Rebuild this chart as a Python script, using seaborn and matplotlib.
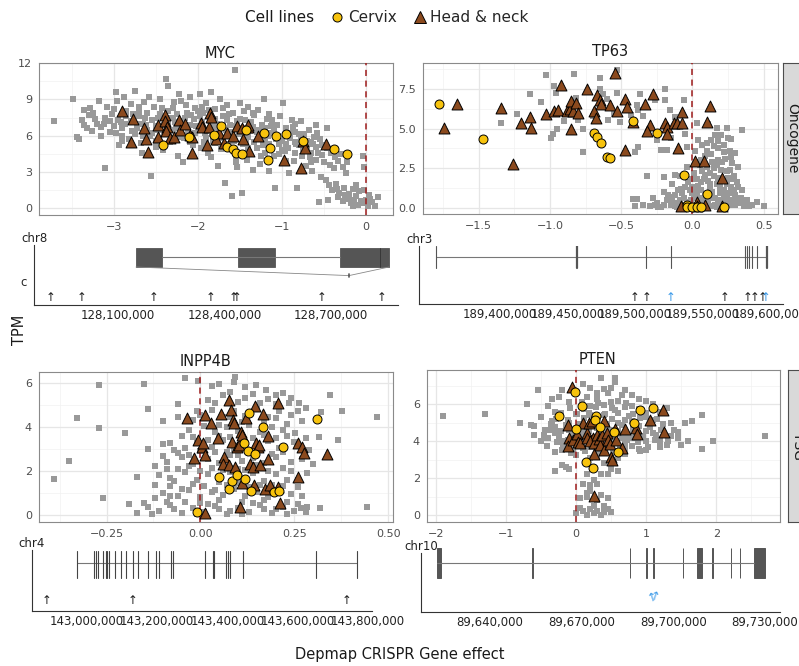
import numpy as np
import pandas as pd
import seaborn as sns
import matplotlib.pyplot as plt
from matplotlib.lines import Line2D
from matplotlib.patches import Rectangle

sns.set_style("white")
plt.rcParams['font.family'] = ['DejaVu Sans']

# ---------------- data ----------------
# MYC: (gene effect, TPM)
myc_grey = [(-3.71, 7.2), (-3.48, 9.0), (-3.44, 5.9), (-3.42, 5.7), (-3.38, 7.3), (-3.35, 8.1), (-3.32, 6.6),
            (-3.30, 7.7), (-3.28, 8.3), (-3.26, 6.4), (-3.22, 7.4), (-3.18, 8.9), (-3.15, 6.0), (-3.12, 7.0),
            (-3.10, 3.3), (-3.08, 8.4), (-3.05, 6.3), (-3.02, 7.8), (-2.98, 9.6), (-2.96, 8.9), (-2.94, 5.2),
            (-2.92, 7.1), (-2.90, 6.0), (-2.88, 9.2), (-2.85, 7.6), (-2.82, 5.7), (-2.80, 8.6), (-2.78, 6.4),
            (-2.75, 9.7), (-2.72, 7.0), (-2.70, 8.1), (-2.68, 5.4), (-2.66, 4.6), (-2.64, 8.8), (-2.62, 6.9),
            (-2.60, 7.9), (-2.58, 9.2), (-2.56, 2.7), (-2.55, 6.2), (-2.52, 8.4), (-2.50, 5.1), (-2.48, 7.5),
            (-2.45, 9.0), (-2.42, 4.8), (-2.40, 6.9), (-2.38, 10.7), (-2.36, 10.1), (-2.35, 8.0), (-2.33, 5.5),
            (-2.30, 7.5), (-2.28, 8.8), (-2.26, 6.6), (-2.24, 4.3), (-2.22, 9.4), (-2.20, 7.2), (-2.18, 3.8),
            (-2.16, 5.8), (-2.14, 8.5), (-2.12, 6.4), (-2.10, 9.2), (-2.08, 7.7), (-2.06, 5.2), (-2.04, 8.3),
            (-2.02, 6.8), (-1.98, 9.4), (-1.96, 5.0), (-1.94, 7.9), (-1.92, 6.2), (-1.90, 8.7), (-1.88, 4.6),
            (-1.86, 7.2), (-1.84, 9.6), (-1.82, 5.6), (-1.80, 8.2), (-1.78, 6.7), (-1.76, 3.5), (-1.74, 9.0),
            (-1.72, 4.9), (-1.70, 7.6), (-1.68, 2.1), (-1.66, 8.5), (-1.64, 5.3), (-1.62, 6.9), (-1.60, 1.0),
            (-1.58, 7.9), (-1.56, 11.4), (-1.55, 4.3), (-1.53, 3.4), (-1.51, 6.1), (-1.50, 8.7), (-1.47, 1.3),
            (-1.46, 5.3), (-1.44, 7.3), (-1.42, 4.0), (-1.40, 8.4), (-1.38, 6.4), (-1.35, 3.2), (-1.33, 7.7),
            (-1.30, 5.0), (-1.28, 8.1), (-1.26, 3.7), (-1.24, 6.9), (-1.22, 9.0), (-1.20, 5.6), (-1.18, 7.4),
            (-1.16, 3.1), (-1.14, 6.2), (-1.12, 7.3), (-1.10, 4.3), (-1.08, 1.7), (-1.06, 6.9), (-1.04, 5.3),
            (-1.02, 7.6), (-0.99, 8.7), (-0.97, 4.7), (-0.95, 6.6), (-0.92, 2.9), (-0.90, 5.8), (-0.88, 7.3),
            (-0.86, 3.9), (-0.84, 6.3), (-0.82, 1.7), (-0.80, 5.2), (-0.78, 7.2), (-0.76, 4.3), (-0.74, 6.1),
            (-0.72, 3.5), (-0.70, 5.6), (-0.68, 6.5), (-0.66, 4.6), (-0.64, 3.1), (-0.62, 5.9), (-0.60, 4.0),
            (-0.58, 6.2), (-0.56, 0.5), (-0.54, 2.6), (-0.52, 5.2), (-0.50, 3.8), (-0.48, 2.3), (-0.46, 6.6),
            (-0.44, 1.9), (-0.42, 4.6), (-0.40, 1.5), (-0.38, 3.3), (-0.36, 2.0), (-0.34, 0.9), (-0.32, 1.3),
            (-0.30, 4.5), (-0.28, 0.6), (-0.26, 1.7), (-0.24, 2.9), (-0.22, 0.8), (-0.20, 1.2), (-0.18, 0.4),
            (-0.16, 1.6), (-0.14, 0.7), (-0.12, 1.0), (-0.10, 0.3), (-0.08, 1.4), (-0.06, 0.6), (-0.04, 4.3),
            (-0.02, 3.4), (0.00, 0.7), (0.02, 0.2), (0.04, 1.1), (0.07, 0.5), (0.10, 0.2), (0.14, 0.9),
            (-3.20, 7.0), (-3.10, 7.5), (-3.00, 6.8), (-2.95, 7.3), (-2.90, 6.6), (-2.85, 8.0), (-2.80, 7.2),
            (-2.75, 6.1), (-2.70, 7.6), (-2.65, 7.0), (-2.60, 6.5), (-2.55, 7.3), (-2.50, 6.8), (-2.45, 7.8),
            (-2.40, 6.2), (-2.35, 7.0), (-2.30, 6.5), (-2.25, 7.8), (-2.20, 6.0), (-2.15, 7.5), (-2.10, 6.9),
            (-2.05, 7.4), (-2.00, 6.6), (-1.95, 7.1), (-1.90, 6.4), (-1.85, 6.9), (-1.80, 7.4), (-1.75, 6.3),
            (-1.70, 6.8), (-1.65, 7.3), (-1.60, 6.3), (-1.55, 6.8), (-1.50, 7.4), (-1.45, 6.2), (-1.40, 5.9),
            (-1.35, 6.7), (-1.30, 6.3), (-1.25, 5.8), (-1.20, 6.6), (-1.15, 5.3), (-1.10, 6.4), (-1.05, 6.0),
            (-1.00, 5.6), (-0.95, 5.3), (-0.90, 6.2), (-0.85, 5.5), (-0.80, 6.1), (-0.75, 4.9), (-0.70, 5.0),
            (-0.65, 5.5), (-0.60, 5.1), (-0.55, 5.7), (-2.90, 5.6), (-2.50, 5.6), (-2.10, 5.5), (-1.80, 5.4),
            (-1.40, 5.0), (-1.20, 4.6), (-1.00, 4.8), (-0.85, 4.6), (-2.30, 8.3), (-2.00, 8.0), (-1.70, 8.3),
            (-1.35, 7.9), (-1.90, 5.8), (-1.60, 5.9), (-3.00, 8.2), (-2.70, 8.4),
            (-3.35, 6.9), (-3.25, 7.9), (-3.15, 6.7), (-3.05, 7.2), (-2.97, 6.2), (-2.87, 7.0), (-2.77, 7.8),
            (-2.73, 6.6), (-2.63, 7.5), (-2.57, 6.0), (-2.47, 6.5), (-2.43, 8.3), (-2.37, 7.5), (-2.27, 7.1),
            (-2.23, 5.9), (-2.17, 6.8), (-2.13, 7.9), (-2.03, 6.2), (-1.97, 7.6), (-1.93, 5.5), (-1.87, 8.1),
            (-1.83, 6.1), (-1.77, 7.0), (-1.73, 5.8), (-1.67, 6.5), (-1.63, 7.8), (-1.57, 5.6), (-1.53, 7.2),
            (-1.47, 6.6), (-1.43, 5.6), (-1.37, 7.1), (-1.33, 5.5), (-1.27, 6.5), (-1.23, 5.2), (-1.17, 6.0),
            (-1.13, 6.8), (-1.07, 5.7), (-1.03, 4.5), (-0.97, 6.0), (-0.93, 5.0), (-0.87, 6.7), (-0.83, 5.3),
            (-0.77, 5.8), (-0.73, 5.3), (-0.67, 4.2), (-0.63, 5.3), (-0.57, 4.6), (-0.53, 4.4), (-0.47, 5.0),
            (-0.43, 3.6), (-0.37, 4.2), (-0.33, 3.9), (-0.27, 3.4), (-0.23, 3.8), (-1.85, 4.2), (-1.55, 3.8),
            (-1.25, 4.3), (-0.95, 3.9), (-0.65, 3.8), (-2.65, 6.0), (-2.20, 8.9), (-1.95, 8.4), (-1.45, 8.0),
            (-1.15, 7.8), (-0.85, 7.0), (-0.60, 6.9), (-0.15, 0.2), (-0.05, 0.4), (0.05, 0.8), (-0.25, 1.1),
            (-0.35, 1.6), (-0.45, 0.7), (-0.12, 1.9), (-0.02, 1.5)]
myc_tri = [(-2.90, 8.06), (-2.77, 7.4), (-2.79, 5.46), (-2.64, 6.65), (-2.62, 5.71), (-2.59, 4.64), (-2.48, 6.84),
           (-2.48, 5.85), (-2.39, 7.73), (-2.39, 7.17), (-2.37, 6.7), (-2.38, 6.35), (-2.33, 5.79), (-2.29, 5.93),
           (-2.23, 7.31), (-2.21, 6.48), (-2.15, 6.95), (-2.09, 6.07), (-2.07, 4.55), (-2.07, 5.85), (-1.96, 7.06),
           (-1.95, 6.68), (-1.89, 5.24), (-1.87, 6.68), (-1.86, 7.86), (-1.85, 7.53), (-1.75, 6.21), (-1.78, 5.71),
           (-1.69, 5.38), (-1.66, 6.21), (-1.58, 5.99), (-1.54, 6.82), (-1.46, 5.71), (-1.48, 6.62), (-1.40, 6.68),
           (-1.41, 6.84), (-1.39, 4.77), (-1.29, 5.99), (-0.98, 4.0), (-0.77, 3.31), (-0.75, 5.52), (-0.73, 4.97),
           (-0.48, 5.33)]
myc_cir = [(-2.42, 5.19), (-2.11, 5.88), (-1.81, 6.07), (-1.73, 6.82), (-1.66, 5.08), (-1.58, 4.91), (-1.55, 4.55),
           (-1.48, 4.47), (-1.43, 6.48), (-1.21, 6.26), (-1.14, 5.02), (-1.17, 3.97), (-1.07, 5.99), (-0.95, 6.13),
           (-0.75, 5.55), (-0.38, 4.88), (-0.23, 4.5)]

# TP63
tp63_grey = [(-1.34, 5.34), (-1.14, 7.17), (-1.23, 5.93), (-1.06, 6.67), (-1.03, 8.4), (-0.98, 4.66), (-0.96, 7.24),
             (-0.97, 7.7), (-0.99, 4.43), (-0.95, 4.96), (-0.83, 8.44), (-0.82, 6.92), (-0.80, 5.55), (-0.77, 4.96),
             (-0.77, 3.54), (-0.65, 8.19), (-0.65, 7.49), (-0.63, 7.17), (-0.59, 5.55), (-0.55, 5.93), (-0.53, 8.71),
             (-0.53, 7.24), (-0.51, 5.44), (-0.43, 5.86), (-0.40, 3.54), (-0.39, 6.5), (-0.42, 0.53), (-0.40, 0.13),
             (-0.39, 0.55), (-0.38, 3.86), (-0.37, 7.17), (-0.38, 6.18), (-0.32, 2.0), (-0.31, 4.7), (-0.26, 6.81),
             (-0.26, 0.17), (-0.22, 3.65), (-0.20, 1.92), (-0.19, 6.81), (-0.19, 7.49), (-0.18, 3.65), (-0.16, 6.18),
             (-0.12, 5.76), (-0.12, 2.1), (-0.06, 6.81), (-0.05, 4.66), (-0.04, 3.86), (0.03, 5.38), (0.10, 4.07),
             (0.11, 5.27), (0.17, 5.02), (0.18, 4.22), (0.24, 5.02), (0.27, 4.32), (0.30, 3.44), (0.35, 4.92),
             (0.32, 2.55), (0.40, 0.13), (0.50, 0.13), (0.30, 0.53), (0.37, 0.27),
             (-0.30, 0.1), (-0.25, 0.3), (-0.22, 0.05), (-0.18, 0.5), (-0.15, 0.15), (-0.12, 0.8), (-0.10, 0.3),
             (-0.08, 1.2), (-0.06, 0.6), (-0.05, 0.05), (-0.03, 1.6), (-0.02, 0.35), (0.00, 0.9), (0.01, 2.2),
             (0.02, 0.2), (0.04, 1.4), (0.05, 0.6), (0.06, 3.0), (0.07, 0.1), (0.08, 1.8), (0.09, 0.8), (0.10, 2.6),
             (0.11, 0.3), (0.12, 1.2), (0.13, 3.4), (0.14, 0.6), (0.15, 2.0), (0.16, 0.2), (0.17, 1.5), (0.18, 3.8),
             (0.19, 0.9), (0.20, 2.4), (0.21, 0.4), (0.22, 1.1), (0.23, 3.1), (0.24, 0.7), (0.25, 1.9), (0.26, 0.2),
             (0.27, 1.3), (0.28, 2.8), (0.30, 0.8), (0.31, 1.6), (0.33, 0.3), (0.35, 1.1), (0.38, 0.5), (0.42, 0.2),
             (-0.20, 1.0), (-0.14, 1.5), (-0.09, 2.0), (-0.04, 2.6), (0.02, 3.6), (0.04, 4.3), (0.07, 2.3),
             (0.11, 1.7), (0.14, 2.9), (0.16, 4.6), (0.19, 1.3), (0.22, 4.0), (0.24, 2.3), (0.26, 3.6), (0.29, 2.0),
             (0.32, 0.6), (0.03, 1.0), (0.08, 0.4), (0.13, 0.9), (0.18, 0.5), (0.23, 0.1), (0.28, 0.5), (-0.01, 0.5),
             (-0.07, 0.2), (-0.12, 0.1), (0.12, 2.2), (0.17, 2.7), (0.21, 1.7), (0.06, 1.6), (0.00, 1.3), (0.09, 3.3),
             (0.15, 3.9), (-0.35, 0.2), (0.45, 0.35),
             (-0.28, 0.6), (-0.24, 0.05), (-0.20, 0.2), (-0.17, 0.8), (-0.14, 0.4), (-0.11, 0.05), (-0.09, 0.5),
             (-0.07, 0.9), (-0.04, 0.3), (-0.02, 1.1), (0.00, 0.1), (0.01, 0.6), (0.03, 1.8), (0.05, 0.3),
             (0.06, 1.1), (0.08, 0.05), (0.09, 2.1), (0.10, 0.5), (0.12, 1.5), (0.13, 0.1), (0.14, 1.0), (0.15, 2.5),
             (0.16, 0.6), (0.18, 1.9), (0.19, 0.3), (0.20, 1.1), (0.21, 2.9), (0.22, 0.6), (0.24, 1.5), (0.25, 0.3),
             (0.26, 2.4), (0.27, 0.9), (0.29, 1.1), (0.30, 0.2), (0.32, 1.3), (0.34, 0.6), (0.36, 0.1), (0.05, 2.7),
             (0.10, 3.6), (0.13, 4.3), (0.18, 3.0), (0.20, 4.6), (0.25, 4.4), (0.27, 3.2), (0.22, 3.5), (0.07, 4.0),
             (0.03, 2.9), (0.00, 1.8), (-0.05, 1.3), (-0.10, 1.1), (-0.15, 0.7), (0.11, 0.8), (0.17, 0.05),
             (0.23, 0.9), (0.28, 1.8), (-0.25, 4.3), (-0.35, 5.8), (-0.15, 4.4), (-0.45, 6.2), (-0.70, 5.8),
             (-0.60, 6.9), (-0.90, 5.5)]
tp63_tri = [(-1.65, 6.56), (-1.74, 5.02), (-1.26, 2.74), (-1.34, 6.29), (-1.20, 5.38), (-1.14, 5.76), (-1.13, 5.02),
            (-1.03, 5.93), (-0.97, 6.12), (-0.94, 6.18), (-0.92, 7.76), (-0.88, 6.12), (-0.86, 6.22), (-0.85, 6.77),
            (-0.84, 6.12), (-0.85, 4.96), (-0.82, 6.65), (-0.80, 6.01), (-0.74, 7.49), (-0.69, 6.12), (-0.68, 5.65),
            (-0.67, 7.13), (-0.65, 6.81), (-0.64, 6.54), (-0.58, 6.5), (-0.54, 8.5), (-0.53, 6.12), (-0.47, 3.65),
            (-0.47, 6.86), (-0.46, 6.39), (-0.42, 5.44), (-0.33, 6.54), (-0.30, 5.23), (-0.32, 4.87), (-0.28, 7.19),
            (-0.19, 5.34), (-0.18, 5.08), (-0.18, 4.64), (-0.13, 5.38), (-0.11, 5.34), (-0.10, 3.76), (-0.07, 6.03),
            (-0.07, 5.34), (0.02, 2.97), (0.03, 0.38), (0.03, 0.13), (0.08, 2.97), (0.09, 0.19), (0.12, 6.43),
            (0.10, 5.44), (0.21, 1.9), (0.21, 0.13), (-0.08, 0.13)]
tp63_cir = [(-1.78, 6.56), (-1.47, 4.32), (-0.69, 4.70), (-0.67, 4.49), (-0.64, 4.07), (-0.60, 3.23), (-0.58, 3.16),
            (-0.42, 5.5), (-0.25, 4.70), (-0.06, 2.05), (0.10, 0.84), (-0.04, 0.17), (-0.035, 0.02), (0.0, 0.02),
            (0.03, 0.02), (0.06, 0.02), (0.22, 0.02)]

# INPP4B
inpp_grey = [(-0.39, 1.63), (-0.35, 2.46), (-0.33, 4.38), (-0.27, 5.9), (-0.27, 3.93), (-0.26, 0.76), (-0.20, 3.70),
             (-0.19, 0.50), (-0.17, 1.71), (-0.15, 5.93), (-0.15, 0.53), (-0.14, 4.79), (-0.14, 2.99), (-0.12, 0.76),
             (-0.10, 4.26), (-0.10, 2.68), (-0.08, 0.88), (-0.07, 2.95), (-0.06, 4.46), (-0.06, 5.02), (-0.04, 6.2),
             (-0.006, 6.09), (0.05, 5.93), (0.093, 6.27), (0.148, 5.9), (0.175, 5.67), (0.20, 5.44), (0.237, 5.09),
             (0.263, 5.06), (0.28, 4.87), (0.32, 4.69), (0.376, 4.73), (0.345, 5.44), (0.367, 3.40), (0.443, 0.38),
             (0.47, 4.43), (0.319, 0.33), (0.285, 0.38), (0.268, 0.30), (0.315, 3.55), (0.283, 1.89), (0.253, 3.73),
             (-0.17, 0.10), (-0.14, 0.35), (-0.11, 0.20), (-0.08, 0.45), (-0.05, 0.10), (-0.02, 0.30), (0.01, 0.15),
             (0.04, 0.40), (0.07, 0.05), (0.10, 0.30), (0.13, 0.15), (0.16, 0.45), (0.19, 0.10), (0.22, 0.35),
             (0.25, 0.20), (-0.10, 1.00), (-0.06, 0.85), (-0.03, 1.15), (0.00, 0.80), (0.03, 1.05), (0.06, 0.90),
             (0.09, 1.20), (0.12, 0.85), (0.15, 1.05), (0.18, 0.80), (0.21, 1.15), (0.24, 0.95), (-0.11, 1.80),
             (-0.07, 1.55), (-0.04, 1.95), (-0.01, 1.60), (0.02, 1.85), (0.05, 1.50), (0.08, 1.95), (0.11, 1.65),
             (0.14, 1.90), (0.17, 1.55), (0.20, 1.85), (0.23, 1.60), (-0.09, 2.40), (-0.05, 2.65), (-0.02, 2.30),
             (0.02, 2.55), (0.05, 2.35), (0.08, 2.70), (0.11, 2.45), (0.14, 2.60), (0.17, 2.35), (0.20, 2.65),
             (0.24, 2.40), (0.27, 2.55), (-0.08, 3.25), (-0.04, 3.05), (-0.01, 3.35), (0.03, 3.10), (0.06, 3.40),
             (0.09, 3.00), (0.12, 3.30), (0.15, 3.10), (0.18, 3.35), (0.21, 3.05), (0.25, 3.30), (-0.03, 3.85),
             (0.01, 4.05), (0.04, 3.75), (0.07, 4.00), (0.10, 3.80), (0.13, 4.10), (0.16, 3.75), (0.19, 4.00),
             (0.22, 3.85), (0.00, 4.55), (0.03, 4.75), (0.06, 4.45), (0.09, 4.70), (0.12, 4.50), (0.15, 4.80),
             (0.18, 4.45), (0.21, 4.70), (0.24, 4.55), (0.02, 5.20), (0.06, 5.45), (0.10, 5.15), (0.14, 5.50),
             (0.18, 5.25), (0.22, 5.55), (0.03, 5.85), (0.09, 6.05), (0.12, 5.80), (-0.13, 0.05), (-0.09, 0.60),
             (0.00, 0.55), (0.05, 0.25), (0.11, 0.60), (0.17, 0.25), (0.23, 0.60), (0.28, 0.15), (-0.12, 1.35),
             (0.07, 1.35), (0.19, 1.35), (0.26, 1.25), (-0.06, 2.10), (0.10, 2.10), (0.22, 2.15), (0.29, 2.95),
             (0.04, 2.85), (0.16, 2.95), (-0.02, 4.30), (0.27, 4.25),
             (-0.07, 0.25), (-0.04, 0.60), (-0.01, 0.05), (0.02, 0.50), (0.05, 0.70), (0.08, 0.20), (0.11, 0.05),
             (0.14, 0.55), (0.17, 0.70), (0.20, 0.25), (0.23, 0.05), (0.26, 0.50), (-0.08, 1.30), (-0.05, 1.20),
             (-0.02, 1.40), (0.01, 1.30), (0.04, 1.15), (0.10, 1.45), (0.13, 1.25), (0.16, 1.35), (0.22, 1.30),
             (-0.09, 2.10), (-0.03, 2.20), (0.00, 2.00), (0.03, 2.15), (0.06, 2.05), (0.12, 2.05), (0.15, 2.25),
             (0.18, 2.00), (0.24, 2.00), (-0.06, 2.80), (-0.03, 2.70), (0.00, 2.90), (0.07, 2.85), (0.10, 2.70),
             (0.13, 2.80), (0.19, 2.75), (0.22, 2.85), (-0.05, 3.60), (-0.02, 3.55), (0.02, 3.40), (0.05, 3.60),
             (0.08, 3.55), (0.14, 3.50), (0.17, 3.65), (0.20, 3.50), (0.23, 3.60), (-0.01, 4.70), (0.05, 4.10),
             (0.08, 4.45), (0.11, 4.20), (0.17, 4.25), (0.20, 4.40), (0.23, 4.15), (0.26, 4.70), (0.04, 5.10),
             (0.08, 5.60), (0.12, 5.30), (0.16, 5.10), (0.20, 5.05), (0.24, 5.30), (-0.12, 2.20), (-0.10, 3.20),
             (-0.08, 1.70), (0.28, 3.50), (0.30, 2.30), (0.26, 1.60), (0.27, 0.85)]
inpp_tri = [(-0.036, 4.38), (-0.007, 3.40), (0.004, 3.07), (0.008, 3.28), (0.012, 2.72), (-0.018, 2.60), (0.012, 4.54),
            (0.013, 0.11), (0.027, 4.19), (0.046, 3.51), (0.055, 4.58), (0.062, 2.65), (0.061, 2.31), (0.077, 2.25),
            (0.077, 5.22), (0.082, 4.76), (0.086, 4.31), (0.090, 4.16), (0.084, 3.33), (0.093, 2.19), (0.098, 3.07),
            (0.104, 3.17), (0.107, 3.78), (0.111, 3.63), (0.111, 1.44), (0.105, 0.38), (0.121, 4.38), (0.132, 2.31),
            (0.141, 2.16), (0.145, 4.94), (0.148, 3.25), (0.154, 3.07), (0.157, 3.17), (0.160, 2.27), (0.143, 1.36),
            (0.168, 4.58), (0.173, 1.16), (0.181, 3.58), (0.181, 2.52), (0.185, 1.36), (0.206, 5.09), (0.206, 1.28),
            (0.213, 0.56), (0.261, 1.74), (0.261, 3.28), (0.270, 3.10), (0.277, 2.80), (0.337, 2.75)]
inpp_cir = [(-0.009, 0.15), (0.049, 1.74), (0.077, 1.16), (0.084, 1.54), (0.098, 1.80), (0.120, 1.65), (0.126, 2.92),
            (0.135, 1.09), (0.145, 2.75), (0.117, 3.25), (0.130, 4.61), (0.166, 3.98), (0.219, 3.07), (0.195, 1.03),
            (0.208, 1.10), (0.310, 4.35)]

# PTEN
pten_grey = [(-1.90, 5.35), (-1.30, 5.45), (-0.80, 5.0), (-0.70, 6.0), (-0.65, 4.9), (-0.60, 4.35), (-0.55, 6.75),
             (-0.45, 4.2), (-0.40, 5.9), (-0.45, 4.6), (-0.35, 6.3), (-0.30, 5.6), (-0.25, 6.4), (-0.20, 6.8),
             (-0.30, 2.4), (-0.20, 2.7), (-0.15, 2.6), (-0.10, 2.5), (1.60, 4.0), (1.65, 5.1), (1.80, 5.4),
             (1.80, 3.6), (1.95, 4.0), (2.70, 4.3), (1.55, 5.0), (1.45, 4.5), (1.40, 4.6), (1.50, 3.8), (1.20, 4.0),
             (1.30, 3.8), (1.00, 3.5), (0.90, 3.6), (1.30, 5.8), (0.00, 0.1), (0.05, 0.9), (0.10, 1.7), (0.10, 0.2),
             (0.15, 0.0), (0.20, 1.6), (0.20, 0.3), (0.25, 0.5), (0.25, 0.1), (0.30, 0.2), (0.35, 0.0), (0.35, 1.1),
             (0.40, 0.5), (0.40, 0.15), (0.45, 0.3), (0.50, 0.15), (0.20, 1.3), (0.30, 1.7), (0.15, 1.2), (0.45, 2.2),
             (0.60, 2.4), (0.50, 2.5), (0.15, 2.2), (0.10, 7.1), (0.35, 7.4), (0.55, 7.45), (0.55, 7.2), (0.70, 6.8),
             (0.50, 6.9), (0.20, 6.9), (0.30, 6.6), (0.45, 6.6), (0.80, 6.5), (0.15, 6.4), (-0.10, 6.1), (0.90, 6.3),
             (1.00, 6.2), (1.10, 6.0), (1.20, 5.6),
             (-0.30, 3.42), (-0.08, 3.35), (0.12, 3.46), (0.31, 3.38), (0.52, 3.44), (0.69, 3.33), (0.91, 3.47),
             (-0.41, 3.72), (-0.19, 3.66), (0.02, 3.75), (0.21, 3.68), (0.39, 3.74), (0.62, 3.67), (0.79, 3.73),
             (1.02, 3.68), (1.19, 3.76), (-0.50, 4.02), (-0.28, 3.96), (-0.11, 4.05), (0.09, 3.98), (0.31, 4.03),
             (0.49, 3.95), (0.72, 4.04), (0.88, 3.97), (1.12, 4.06), (1.31, 3.99), (-0.46, 4.33), (-0.24, 4.26),
             (-0.06, 4.35), (0.16, 4.28), (0.34, 4.32), (0.56, 4.25), (0.74, 4.34), (0.96, 4.27), (1.14, 4.33),
             (1.36, 4.26), (-0.39, 4.62), (-0.21, 4.56), (0.01, 4.65), (0.19, 4.58), (0.41, 4.63), (0.59, 4.55),
             (0.81, 4.64), (0.99, 4.57), (1.21, 4.62), (-0.36, 4.92), (-0.14, 4.86), (0.04, 4.95), (0.26, 4.88),
             (0.44, 4.93), (0.66, 4.86), (0.84, 4.94), (1.06, 4.87), (1.24, 4.93), (-0.29, 5.22), (-0.11, 5.16),
             (0.11, 5.25), (0.29, 5.18), (0.51, 5.23), (0.69, 5.15), (0.91, 5.24), (1.09, 5.17), (-0.21, 5.52),
             (0.01, 5.46), (0.19, 5.55), (0.41, 5.48), (0.59, 5.53), (0.81, 5.45), (0.99, 5.54), (-0.09, 5.82),
             (0.11, 5.76), (0.29, 5.85), (0.51, 5.78), (0.69, 5.83), (0.89, 5.76), (0.09, 6.12), (0.31, 6.05),
             (0.49, 6.15), (0.71, 6.08), (-0.15, 3.90), (0.05, 4.15), (0.25, 3.85), (0.45, 4.45), (0.65, 4.15),
             (0.85, 4.45), (-0.35, 5.10), (0.55, 5.70), (0.35, 3.55), (0.75, 5.35), (1.05, 4.75), (-0.05, 3.55),
             (-0.40, 4.15), (-0.30, 4.45), (-0.20, 4.00), (-0.10, 4.60), (0.00, 4.00), (0.10, 4.50), (0.20, 4.20),
             (0.30, 4.70), (0.40, 4.10), (0.50, 4.60), (0.60, 4.40), (0.70, 3.85), (0.80, 4.15), (0.90, 4.80),
             (1.00, 4.00), (1.10, 4.45), (1.20, 3.70), (-0.30, 4.75), (-0.10, 5.00), (0.10, 4.80), (0.20, 5.40),
             (0.40, 5.40), (0.60, 5.00), (0.80, 5.10), (1.00, 5.30), (0.00, 5.50), (0.20, 5.90), (0.40, 5.95),
             (0.60, 6.20), (0.80, 5.90), (0.30, 6.30), (0.10, 3.65), (0.30, 3.15), (0.50, 3.70), (0.70, 3.50),
             (0.20, 3.10), (0.40, 2.80), (-0.20, 3.55), (0.00, 3.25), (0.60, 3.10), (0.35, 2.20), (0.25, 1.90),
             (0.15, 1.00), (0.30, 0.80), (0.45, 0.90), (0.05, 0.40), (0.40, 6.85), (0.65, 6.50), (-0.50, 5.30),
             (-0.60, 4.80), (1.35, 5.00), (1.45, 4.20), (1.15, 5.20)]
pten_tri = [(-0.06, 6.96), (-0.11, 4.88), (-0.10, 4.19), (-0.11, 3.74), (-0.04, 4.06), (0.01, 4.39), (0.03, 3.97),
            (0.06, 3.88), (0.10, 5.0), (0.15, 4.46), (0.15, 4.16), (0.19, 5.0), (0.23, 5.11), (0.24, 4.19),
            (0.20, 3.99), (0.26, 3.92), (0.25, 3.29), (0.25, 1.03), (0.30, 4.34), (0.33, 4.10), (0.34, 3.79),
            (0.37, 4.34), (0.40, 5.09), (0.40, 3.52), (0.44, 4.46), (0.46, 4.07), (0.48, 3.83), (0.50, 3.16),
            (0.51, 2.98), (0.56, 4.64), (0.57, 4.07), (0.65, 3.61), (0.70, 4.64), (0.86, 4.70), (0.87, 4.39),
            (1.06, 5.15), (1.24, 5.69), (1.26, 4.52)]
pten_cir = [(-0.01, 6.68), (0.08, 5.91), (-0.24, 5.37), (0.0, 4.66), (0.29, 5.37), (0.27, 5.15), (0.34, 4.79),
            (0.54, 4.52), (0.59, 3.43), (0.14, 2.89), (0.24, 2.53), (0.83, 4.97), (0.91, 5.69), (1.09, 5.82)]

# gene tracks: exons, mutation arrows (genomic position)
chr8_exons = [(128150700, 128223900), (128438000, 128542300), (128725400, 128863400)]
chr8_arrows = [127911300, 127998600, 128201400, 128362000, 128426800, 128435200, 128674600, 128843600]
chr3_exons = [189352600, 189457000, 189508100, 189526600, 189581500, 189583000, 189584400,
              189586700, 189590400, 189597800]
chr3_arrows = [189499300, 189508900, 189566600, 189583700, 189588800, 189594800]
chr3_arrows_blue = [189526600, 189597000]
chr4_exons = [142971100, 143021200, 143026000, 143032600, 143046800, 143054500, 143058200, 143063100, 143081000,
              143096400, 143111500, 143130600, 143146500, 143175000, 143196900, 143206300, 143239600, 143244500,
              143336400, 143360000, 143362900, 143396200, 143401900, 143406800, 143445500, 143652500, 143770000]
chr4_arrows = [142886100, 143131000, 143740200]
chr10_exons = [(89622800, 89623800), (89653700, 89653900), (89685700, 89685900), (89691200, 89691400),
               (89693300, 89693600), (89703100, 89703300), (89707700, 89709300), (89712800, 89713000),
               (89718800, 89719000), (89721700, 89721900), (89726300, 89730100)]
chr10_arrows_blue = [89693000, 89693700]

W, H = 799, 666
fig = plt.figure(figsize=(W / 100, H / 100), dpi=100)


def px_axes(l, t, r, b):
    return fig.add_axes([l / W, 1 - b / H, (r - l) / W, (b - t) / H])


def minus(v, fmt):
    return (fmt % v).replace('-', '\u2212')


def scatter_panel(ax, grey, tri, cir, xlim, ylim, xt, yt, xm, ym, xf, yf, title, tx, ty):
    g = pd.DataFrame(grey, columns=['effect', 'tpm'])
    t = pd.DataFrame(tri, columns=['effect', 'tpm'])
    c = pd.DataFrame(cir, columns=['effect', 'tpm'])
    for v in xm:
        ax.axvline(v, color='#f2f2f2', lw=0.5, zorder=0)
    for v in ym:
        ax.axhline(v, color='#f2f2f2', lw=0.5, zorder=0)
    for v in xt:
        ax.axvline(v, color='#e6e6e6', lw=0.9, zorder=0)
    for v in yt:
        ax.axhline(v, color='#e6e6e6', lw=0.9, zorder=0)
    sns.scatterplot(data=g, x='effect', y='tpm', marker='s', color='#999999', s=21, linewidth=0, ax=ax, zorder=2)
    ax.axvline(0, color='#9e1b1b', lw=1.1, ls=(0, (4, 3)), zorder=3)
    sns.scatterplot(data=t, x='effect', y='tpm', marker='^', color='#8b4a1e', edgecolor='black', s=62,
                    linewidth=0.7, ax=ax, zorder=4)
    sns.scatterplot(data=c, x='effect', y='tpm', marker='o', color='#f7c30d', edgecolor='black', s=42,
                    linewidth=0.7, ax=ax, zorder=5)
    ax.set_xlim(xlim)
    ax.set_ylim(ylim)
    ax.set_xticks(xt)
    ax.set_yticks(yt)
    ax.set_xticklabels([minus(v, xf) for v in xt])
    ax.set_yticklabels([minus(v, yf) for v in yt])
    ax.set_xlabel('')
    ax.set_ylabel('')
    ax.tick_params(length=3, width=0.6, color='#555555', labelsize=8, labelcolor='#4d4d4d', pad=2)
    for s in ax.spines.values():
        s.set_color('#8a8a8a')
        s.set_linewidth(0.8)
    fig.text(tx / W, 1 - ty / H, title, ha='center', va='center', fontsize=10.5, color='#1a1a1a')


ax_myc = px_axes(39, 63, 393, 215)
scatter_panel(ax_myc, myc_grey, myc_tri, myc_cir, (-3.89, 0.32), (-0.55, 12.0),
              [-3, -2, -1, 0], [0, 3, 6, 9, 12], [-3.5, -2.5, -1.5, -0.5], [1.5, 4.5, 7.5, 10.5],
              '%g', '%g', 'MYC', 220, 54)
ax_tp = px_axes(423, 63, 778, 214)
scatter_panel(ax_tp, tp63_grey, tp63_tri, tp63_cir, (-1.89, 0.60), (-0.4, 9.16),
              [-1.5, -1.0, -0.5, 0.0, 0.5], [0.0, 2.5, 5.0, 7.5], [-1.75, -1.25, -0.75, -0.25, 0.25],
              [1.25, 3.75, 6.25, 8.75], '%.1f', '%.1f', 'TP63', 610, 52)
ax_in = px_axes(39, 372, 393, 522)
scatter_panel(ax_in, inpp_grey, inpp_tri, inpp_cir, (-0.43, 0.513), (-0.32, 6.49),
              [-0.25, 0.0, 0.25, 0.5], [0, 2, 4, 6], [-0.375, -0.125, 0.125, 0.375], [1, 3, 5],
              '%.2f', '%g', 'INPP4B', 205, 361)
ax_pt = px_axes(427, 370, 780, 522)
scatter_panel(ax_pt, pten_grey, pten_tri, pten_cir, (-2.13, 2.91), (-0.38, 7.86),
              [-2, -1, 0, 1, 2], [0, 2, 4, 6], [-1.5, -0.5, 0.5, 1.5, 2.5], [1, 3, 5, 7],
              '%g', '%g', 'PTEN', 597, 359)

# facet strips on the right (cut by the figure edge, as in the original)
for (l, t, r, b), lab in [((783, 63, 802, 214), 'Oncogene'), ((788, 370, 807, 522), 'TSG')]:
    sax = px_axes(l, t, r, b)
    sax.set_facecolor('#d9d9d9')
    sax.set_xticks([])
    sax.set_yticks([])
    for s in sax.spines.values():
        s.set_color('#4d4d4d')
        s.set_linewidth(0.8)
    sax.text(0.5, 0.5, lab, rotation=-90, ha='center', va='center', fontsize=10, color='#1a1a1a',
             transform=sax.transAxes)


def track_axes(l, t, r, b, xlim, ticks, chrom):
    ax = px_axes(l, t, r, b)
    ax.set_xlim(xlim)
    ax.set_ylim(0, 1)
    ax.set_facecolor('none')
    for k in ['top', 'right']:
        ax.spines[k].set_visible(False)
    for k in ['left', 'bottom']:
        ax.spines[k].set_color('#333333')
        ax.spines[k].set_linewidth(0.8)
    ax.set_yticks([])
    ax.set_xticks(ticks)
    ax.set_xticklabels([f'{v:,}' for v in ticks])
    ax.tick_params(axis='x', length=0, labelsize=8.5, labelcolor='#222222', pad=3)
    ax.text(0, 1.0, chrom, ha='center', va='bottom', fontsize=8.5, color='#222222', transform=ax.transAxes)
    return ax


def arrows(ax, xs, y, color):
    for x in xs:
        ax.text(x, y, '\u2191', ha='center', va='center', fontsize=8.5, color=color)


# chr8 / MYC
g8 = track_axes(34, 245, 398, 305, (127863400, 128888800), [128100000, 128400000, 128700000], 'chr8')
g8.plot([chr8_exons[0][1], chr8_exons[2][0]], [0.8, 0.8], color='#777777', lw=0.8)
for a, b in chr8_exons:
    g8.add_patch(Rectangle((a, 0.633), b - a, 0.317, facecolor='#555555', edgecolor='#555555', lw=0.6))
g8.plot([128837000, 128837000], [0.633, 0.95], color='#333333', lw=0.6)
g8.plot([chr8_exons[0][0], 128750700, chr8_exons[2][1]], [0.633, 0.49, 0.633], color='#888888', lw=0.6)
g8.plot([128750700, 128750700], [0.46, 0.51], color='#555555', lw=1.2)
g8.text(-0.03, 0.38, 'c', ha='center', va='center', fontsize=8.5, transform=g8.transAxes)
arrows(g8, chr8_arrows, 0.13, '#222222')

# chr3 / TP63
g3 = track_axes(419, 246, 783, 304, (189340000, 189609600),
                [189400000, 189450000, 189500000, 189550000, 189600000], 'chr3')
g3.plot([chr3_exons[0], chr3_exons[-1]], [0.81, 0.81], color='#777777', lw=0.8)
for i, x in enumerate(chr3_exons):
    g3.plot([x, x], [0.62, 1.0], color='#555555', lw=1.6 if i in (1, 9) else 0.8)
arrows(g3, chr3_arrows, 0.12, '#222222')
arrows(g3, chr3_arrows_blue, 0.12, '#3d9be9')

# chr4 / INPP4B
g4 = track_axes(32, 550, 372, 611, (142843400, 143811400),
                [143000000, 143200000, 143400000, 143600000, 143800000], 'chr4')
g4.plot([chr4_exons[0], chr4_exons[-1]], [0.79, 0.79], color='#777777', lw=0.8)
for x in chr4_exons:
    g4.plot([x, x], [0.54, 0.98], color='#444444', lw=0.8)
arrows(g4, chr4_arrows, 0.18, '#222222')

# chr10 / PTEN
g10 = track_axes(421, 553, 780, 612, (89617400, 89734900), [89640000, 89670000, 89700000, 89730000], 'chr10')
g10.plot([chr10_exons[0][0], chr10_exons[-1][0]], [0.83, 0.83], color='#777777', lw=0.8)
for a, b in chr10_exons:
    g10.add_patch(Rectangle((a, 0.58), b - a, 0.5, facecolor='#555555', edgecolor='#555555', lw=0.7,
                            clip_on=False))
for x, rot in zip(chr10_arrows_blue, [18, -18]):
    g10.text(x, 0.25, '\u2191', ha='center', va='center', fontsize=8.5, color='#3d9be9', rotation=rot)

# legend, shared axis labels
fig.text(245 / W, 1 - 18 / H, 'Cell lines', ha='left', va='center', fontsize=11, color='#1a1a1a')
handles = [Line2D([], [], ls='', marker='o', markersize=6.5, markerfacecolor='#f7c30d', markeredgecolor='black',
                  markeredgewidth=0.7),
           Line2D([], [], ls='', marker='^', markersize=8, markerfacecolor='#8b4a1e', markeredgecolor='black',
                  markeredgewidth=0.7)]
fig.legend(handles, ['Cervix', 'Head & neck'], ncol=2, loc='center left', bbox_to_anchor=(328 / W, 1 - 18 / H),
           frameon=False, fontsize=11, handletextpad=0.1, columnspacing=0.9, handlelength=1.2,
           borderaxespad=0, borderpad=0)
fig.text(20 / W, 1 - 330 / H, 'TPM', rotation=90, ha='center', va='center', fontsize=10.5, color='#1a1a1a')
fig.text(400 / W, 1 - 655 / H, 'Depmap CRISPR Gene effect', ha='center', va='center', fontsize=10.5,
         color='#1a1a1a')

fig.savefig('out.png', dpi=100)
